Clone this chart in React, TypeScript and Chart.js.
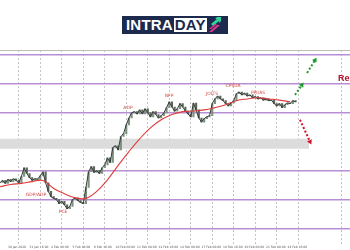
import React, { useEffect, useRef } from "react";
import { Chart, registerables } from "chart.js";

Chart.register(...registerables);

// ---- data ----
const CANDLE_START = -0.375;
const CANDLE_STEP = 0.125;
const CLOSES = [
  1.0879, 1.0883, 1.0878, 1.0885, 1.0881, 1.0886, 1.0883, 1.0879, 1.089, 1.0905,
  1.0895, 1.0888, 1.0883, 1.0886, 1.0885, 1.0891, 1.0898, 1.0879, 1.0864, 1.0855,
  1.0852, 1.085, 1.0843, 1.0847, 1.0841, 1.0834, 1.0838, 1.085, 1.0853, 1.0848,
  1.0845, 1.0843, 1.0871, 1.0898, 1.0907, 1.0897, 1.09, 1.0895, 1.0905, 1.091,
  1.0922, 1.0914, 1.094, 1.0943, 1.0936, 1.0959, 1.0964, 1.0979, 1.0991, 1.1,
  1.1002, 1.0998, 1.1005, 1.0998, 1.1007, 1.1, 1.0993, 1.1002, 1.0997, 1.0991,
  1.0995, 1.1, 1.1009, 1.1019, 1.101, 1.1003, 1.1007, 1.1016, 1.101, 1.1003,
  1.0998, 1.0993, 1.1017, 1.1005, 1.0991, 1.0984, 1.099, 1.0993, 1.0995, 1.1016,
  1.1024, 1.1029, 1.1024, 1.1021, 1.1016, 1.1012, 1.1017, 1.1021, 1.1033, 1.1036,
  1.1031, 1.1034, 1.1029, 1.1031, 1.1026, 1.1028, 1.1024, 1.1026, 1.1022, 1.1024,
  1.1021, 1.1022, 1.1016, 1.1012, 1.1016, 1.1009, 1.1014, 1.1017, 1.1016, 1.1021,
  1.1019,
];
const MA_STEP = 0.5;
const MA_VALUES = [
  1.0872, 1.0876, 1.0878, 1.0881, 1.0883, 1.0869, 1.086, 1.0853, 1.0852, 1.0864,
  1.0884, 1.0909, 1.0933, 1.0955, 1.0974, 1.0988, 1.0997, 1.1002, 1.1003, 1.1005,
  1.1009, 1.1014, 1.1021, 1.1024, 1.1026, 1.1024, 1.1022, 1.1019,
];
const LEVELS = [1.08, 1.085, 1.09, 1.1, 1.105, 1.11];
const BAND_LOW = 1.0938;
const BAND_HIGH = 1.0955;
const BAND_END = 14;
const X_MIN = -0.372;
const X_MAX = 15.907;
const Y_MIN = 1.07724;
const Y_MAX = 1.110862;
const X_TICK_LABELS = [
  "30 Jan 2020", "31 Jan 16:00", "4 Feb 00:00", "5 Feb 08:00", "6 Feb 16:00",
  "10 Feb 00:00", "11 Feb 08:00", "12 Feb 16:00", "14 Feb 00:00", "17 Feb 08:00",
  "18 Feb 16:00", "20 Feb 00:00", "21 Feb 08:00", "24 Feb 16:00", "", "",
];
const EVENT_NAMES = ["ADP", "NFP", "JOLTS", "CPI/UA", "PPI/AS", "GDP/ADP", "PCE"];
const EVENT_X = [5.58, 7.49, 9.49, 10.47, 11.63, 1.3, 2.56];
const EVENT_Y = [1.1008, 1.1029, 1.1033, 1.1047, 1.1034, 1.0859, 1.0828];
const RES_TEXT = "Resistance";
const RES_X = 15.35;
const RES_Y = 1.1059;
const UP1_X = [13.35, 13.67];
const UP1_Y = [1.1031, 1.1048];
const UP2_X = [13.91, 14.28];
const UP2_Y = [1.1069, 1.1091];
const DOWN_X = [13.58, 14.05];
const DOWN_Y = [1.0988, 1.095];

const candleX = (i: number) => CANDLE_START + i * CANDLE_STEP;

const textPlugin = {
  id: "eventText",
  afterDatasetsDraw(chart: any) {
    const { ctx, scales } = chart;
    const x = scales.x;
    const y = scales.y;
    ctx.save();
    ctx.font = '4.5px "DejaVu Sans", sans-serif';
    ctx.fillStyle = "#d4473f";
    ctx.textAlign = "center";
    ctx.textBaseline = "middle";
    EVENT_NAMES.forEach((t, i) => {
      ctx.fillText(t, x.getPixelForValue(EVENT_X[i]), y.getPixelForValue(EVENT_Y[i]));
    });
    ctx.font = 'bold 9px "Liberation Sans", Arial, sans-serif';
    ctx.fillStyle = "#b3122d";
    ctx.textAlign = "left";
    ctx.fillText(RES_TEXT, x.getPixelForValue(RES_X), y.getPixelForValue(RES_Y));
    ctx.restore();
  },
};

function arrowDataset(xs: number[], ys: number[], color: string) {
  return {
    type: "line",
    data: xs.map((v, i) => ({ x: v, y: ys[i] })),
    borderColor: color,
    backgroundColor: color,
    borderWidth: 2,
    borderDash: [2, 2],
    pointRadius: [0, 3],
    pointBorderWidth: 0,
    pointStyle: "triangle",
    pointRotation: (c: any) => {
      const sx = c.chart.scales.x;
      const sy = c.chart.scales.y;
      const dx = sx.getPixelForValue(xs[1]) - sx.getPixelForValue(xs[0]);
      const dy = sy.getPixelForValue(ys[1]) - sy.getPixelForValue(ys[0]);
      return (Math.atan2(dx, -dy) * 180) / Math.PI;
    },
    order: 1,
    clip: false,
  };
}

export default function App() {
  const ref = useRef<HTMLCanvasElement | null>(null);

  useEffect(() => {
    document.body.style.margin = "0";
    const canvas = ref.current;
    if (!canvas) return;
    const bodies = CLOSES.map((c, i) => ({
      x: candleX(i),
      y: [i === 0 ? c : CLOSES[i - 1], c],
    }));
    const chart = new Chart(canvas, {
      type: "line",
      data: {
        datasets: [
          {
            type: "line",
            data: [
              { x: X_MIN, y: BAND_HIGH },
              { x: BAND_END, y: BAND_HIGH },
            ],
            borderWidth: 0,
            borderColor: "rgba(0,0,0,0)",
            backgroundColor: "#dcdcdc",
            pointRadius: 0,
            fill: { value: BAND_LOW },
            order: 10,
          },
          {
            type: "bar",
            data: bodies as any,
            backgroundColor: bodies.map((b) => (b.y[1] >= b.y[0] ? "#7d927f" : "#5d665d")),
            barThickness: 1.5,
            order: 5,
          },
          {
            type: "line",
            data: CLOSES.map((c, i) => ({ x: candleX(i), y: c })),
            borderColor: "#333b34",
            borderWidth: 1,
            pointRadius: 0,
            tension: 0,
            order: 4,
          },
          {
            type: "line",
            data: MA_VALUES.map((v, i) => ({ x: CANDLE_START + i * MA_STEP, y: v })),
            borderColor: "#de3b3b",
            borderWidth: 1.1,
            pointRadius: 0,
            tension: 0.4,
            order: 3,
          },
          arrowDataset(UP1_X, UP1_Y, "#1d9a2c"),
          arrowDataset(UP2_X, UP2_Y, "#1d9a2c"),
          arrowDataset(DOWN_X, DOWN_Y, "#d3132d"),
        ] as any,
      },
      options: {
        animation: false,
        responsive: false,
        layout: { autoPadding: false, padding: { top: 50, left: 0, right: 0, bottom: 0 } },
        plugins: { legend: { display: false }, tooltip: { enabled: false } },
        scales: {
          x: {
            type: "linear",
            min: X_MIN,
            max: X_MAX,
            offset: false,
            border: { display: false, dash: [2, 2] },
            afterFit: (s: any) => {
              s.paddingLeft = 0;
              s.paddingRight = 0;
            },
            grid: {
              drawTicks: false,
              color: (c: any) => (c.tick && c.tick.value > BAND_END ? "rgba(0,0,0,0)" : "#c4c4c4"),
              lineWidth: 1,
            },
            ticks: {
              stepSize: 1,
              includeBounds: false,
              autoSkip: false,
              maxRotation: 0,
              align: "start",
              padding: 1,
              color: "#555",
              font: { size: 3, family: "DejaVu Sans" },
              callback: (v: any) => X_TICK_LABELS[Math.round(v)] ?? "",
            },
          },
          y: {
            type: "linear",
            min: Y_MIN,
            max: Y_MAX,
            border: { display: false },
            afterFit: (s: any) => {
              s.width = 0;
              s.paddingTop = 0;
              s.paddingBottom = 0;
            },
            afterBuildTicks: (s: any) => {
              s.ticks = [...LEVELS, Y_MAX].map((v) => ({ value: v }));
            },
            grid: {
              drawTicks: false,
              color: (c: any) => (c.tick && c.tick.value === Y_MAX ? "#bdbdbd" : "#b88fd6"),
              lineWidth: (c: any) => (c.tick && c.tick.value === Y_MAX ? 1 : 1.5),
            },
            ticks: { display: false },
          },
        },
      } as any,
      plugins: [textPlugin],
    });
    return () => chart.destroy();
  }, []);

  return (
    <div style={{ position: "relative", width: 350, height: 250, background: "#fff" }}>
      <canvas ref={ref} width={350} height={250} style={{ display: "block" }} />
      <div
        style={{
          position: "absolute",
          left: 122,
          top: 16,
          width: 106,
          height: 18,
          background: "#1c2a4d",
          display: "flex",
          alignItems: "center",
          boxSizing: "border-box",
          paddingLeft: 4,
          fontFamily: '"Liberation Sans", Arial, sans-serif',
          fontWeight: 700,
          fontSize: 15,
          letterSpacing: 0.2,
        }}
      >
        <span style={{ color: "#ffffff", lineHeight: "14px" }}>INTRA</span>
        <span
          style={{
            color: "#1c2a4d",
            background: "#ffffff",
            lineHeight: "14px",
            padding: "0 1px",
            marginLeft: 1,
          }}
        >
          DAY
        </span>
        <svg width="14" height="16" viewBox="0 0 14 16" style={{ marginLeft: 1 }}>
          <polygon points="3,7 9,2 7,2 9,0 13,0 13,4 11,6 11,4 5,9" fill="#2fd69a" />
          <polygon points="1,15 9,8 12,8 4,15" fill="#e8338f" />
          <polygon points="1,12 7,7 9,7 3,12" fill="#e8338f" />
        </svg>
      </div>
    </div>
  );
}
